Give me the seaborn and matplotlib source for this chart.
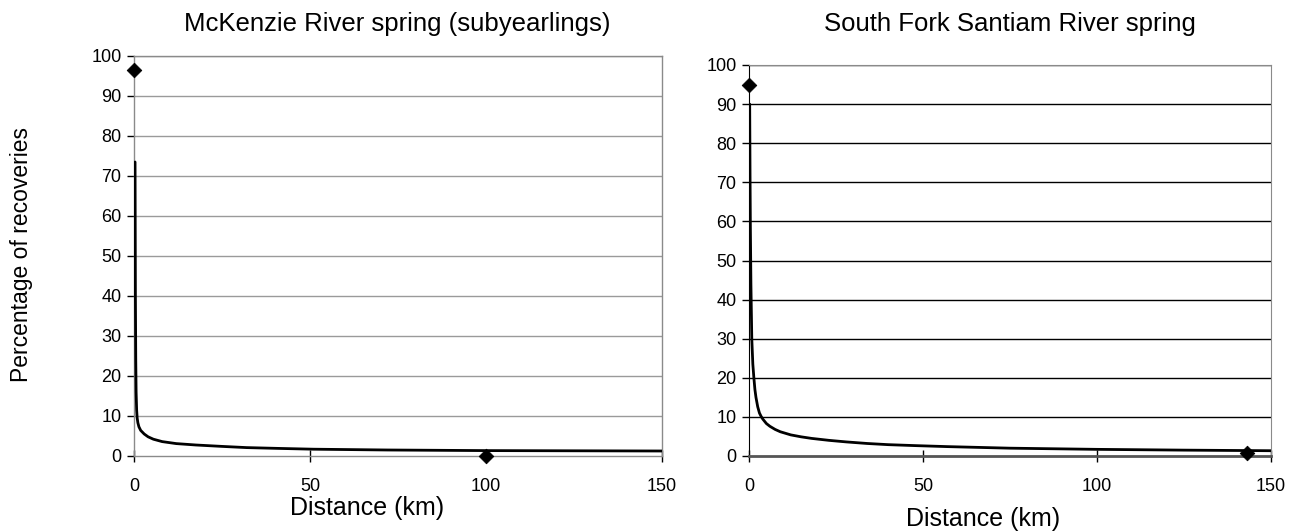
import matplotlib
matplotlib.use("Agg")
import matplotlib.pyplot as plt
import seaborn as sns
import pandas as pd

# ---- data ----
left_title = "McKenzie River spring (subyearlings)"
right_title = "South Fork Santiam River spring"
x_label = "Distance (km)"
y_label = "Percentage of recoveries"

left_curve_x = [0.3, 0.4, 0.5, 0.6, 0.75, 0.9, 1.1, 1.4, 1.9, 2.9, 4.0, 5.5, 8, 12, 17.6, 25, 32, 41, 51, 72, 100, 125, 150]
left_curve_y = [73.5, 40, 24, 16, 11.5, 9.5, 8.3, 7.3, 6.4, 5.5, 4.8, 4.2, 3.6, 3.1, 2.75, 2.4, 2.1, 1.9, 1.7, 1.5, 1.35, 1.3, 1.25]
left_obs_x = [0, 100]
left_obs_y = [96.5, 0]

right_curve_x = [0.2, 0.3, 0.4, 0.55, 0.8, 1.1, 1.4, 1.7, 2.0, 2.5, 3.0, 3.5, 4.0, 5.0, 6.0, 7.5, 9.0, 12, 15, 18, 23, 28, 34, 40, 48, 57, 75, 100, 125, 150]
right_curve_y = [90, 72, 58, 44, 30, 23.5, 20, 17, 15, 12.6, 11, 10.1, 9.4, 8.3, 7.6, 6.8, 6.2, 5.4, 4.9, 4.5, 4.0, 3.6, 3.2, 2.9, 2.65, 2.4, 2.0, 1.7, 1.5, 1.35]
right_obs_x = [0, 143]
right_obs_y = [95, 0.7]

x_ticks = [0, 50, 100, 150]
y_ticks = list(range(0, 101, 10))

sns.set_style("white")
plt.rcParams["font.family"] = ["Liberation Sans", "DejaVu Sans"]
plt.rcParams["text.color"] = "black"
plt.rcParams["axes.labelcolor"] = "black"
plt.rcParams["xtick.color"] = "black"
plt.rcParams["ytick.color"] = "black"

fig = plt.figure(figsize=(13, 5.31), dpi=100)
W, H = 1300, 531
axL = fig.add_axes([134 / W, 1 - 456 / H, (662 - 134) / W, (456 - 56) / H])
axR = fig.add_axes([749 / W, 1 - 456 / H, (1271 - 749) / W, (456 - 65) / H])


def draw(ax, cx, cy, ox, oy, grid_color):
    dfc = pd.DataFrame({"x": cx, "y": cy})
    dfo = pd.DataFrame({"x": ox, "y": oy})
    ax.set_xlim(0, 150)
    ax.set_ylim(0, 100)
    ax.set_yticks(y_ticks)
    ax.set_xticks(x_ticks)
    for v in y_ticks[1:]:
        ax.axhline(v, color=grid_color, lw=1.0, zorder=0)
    sns.lineplot(data=dfc, x="x", y="y", ax=ax, color="black", lw=2.0, zorder=3,
                 estimator=None, sort=True)
    sns.scatterplot(data=dfo, x="x", y="y", ax=ax, color="black", marker="D", s=55,
                    edgecolor="black", zorder=4, clip_on=False)
    ax.tick_params(axis="y", direction="out", length=5, width=1, color="black",
                   labelsize=13, pad=4, left=True)
    ax.tick_params(axis="x", direction="inout", length=8, width=1, color="black",
                   labelsize=13, pad=12, bottom=True)
    ax.set_xlabel("")
    ax.set_ylabel("")


draw(axL, left_curve_x, left_curve_y, left_obs_x, left_obs_y, "#9a9a9a")
draw(axR, right_curve_x, right_curve_y, right_obs_x, right_obs_y, "black")

fig.text(397 / W, 1 - 24 / H, left_title, fontsize=18.5, ha="center", va="center")
fig.text(1010 / W, 1 - 24 / H, right_title, fontsize=18.5, ha="center", va="center")
fig.text(367 / W, 1 - 508 / H, x_label, fontsize=18, ha="center", va="center")
fig.text(983 / W, 1 - 519 / H, x_label, fontsize=18, ha="center", va="center")
fig.text(22 / W, 1 - 255 / H, y_label, rotation=90,
         fontsize=16.5, ha="center", va="center")

for sp in axL.spines.values():
    sp.set_color("#8a8a8a")
    sp.set_linewidth(1.0)
axR.spines["left"].set_color("black")
axR.spines["bottom"].set_color("#555555")
axR.spines["bottom"].set_linewidth(2.0)
axR.spines["right"].set_color("#8a8a8a")
axR.spines["top"].set_color("#8a8a8a")
for sp in axR.spines.values():
    sp.set_visible(True)

fig.savefig("out.png", dpi=100)
